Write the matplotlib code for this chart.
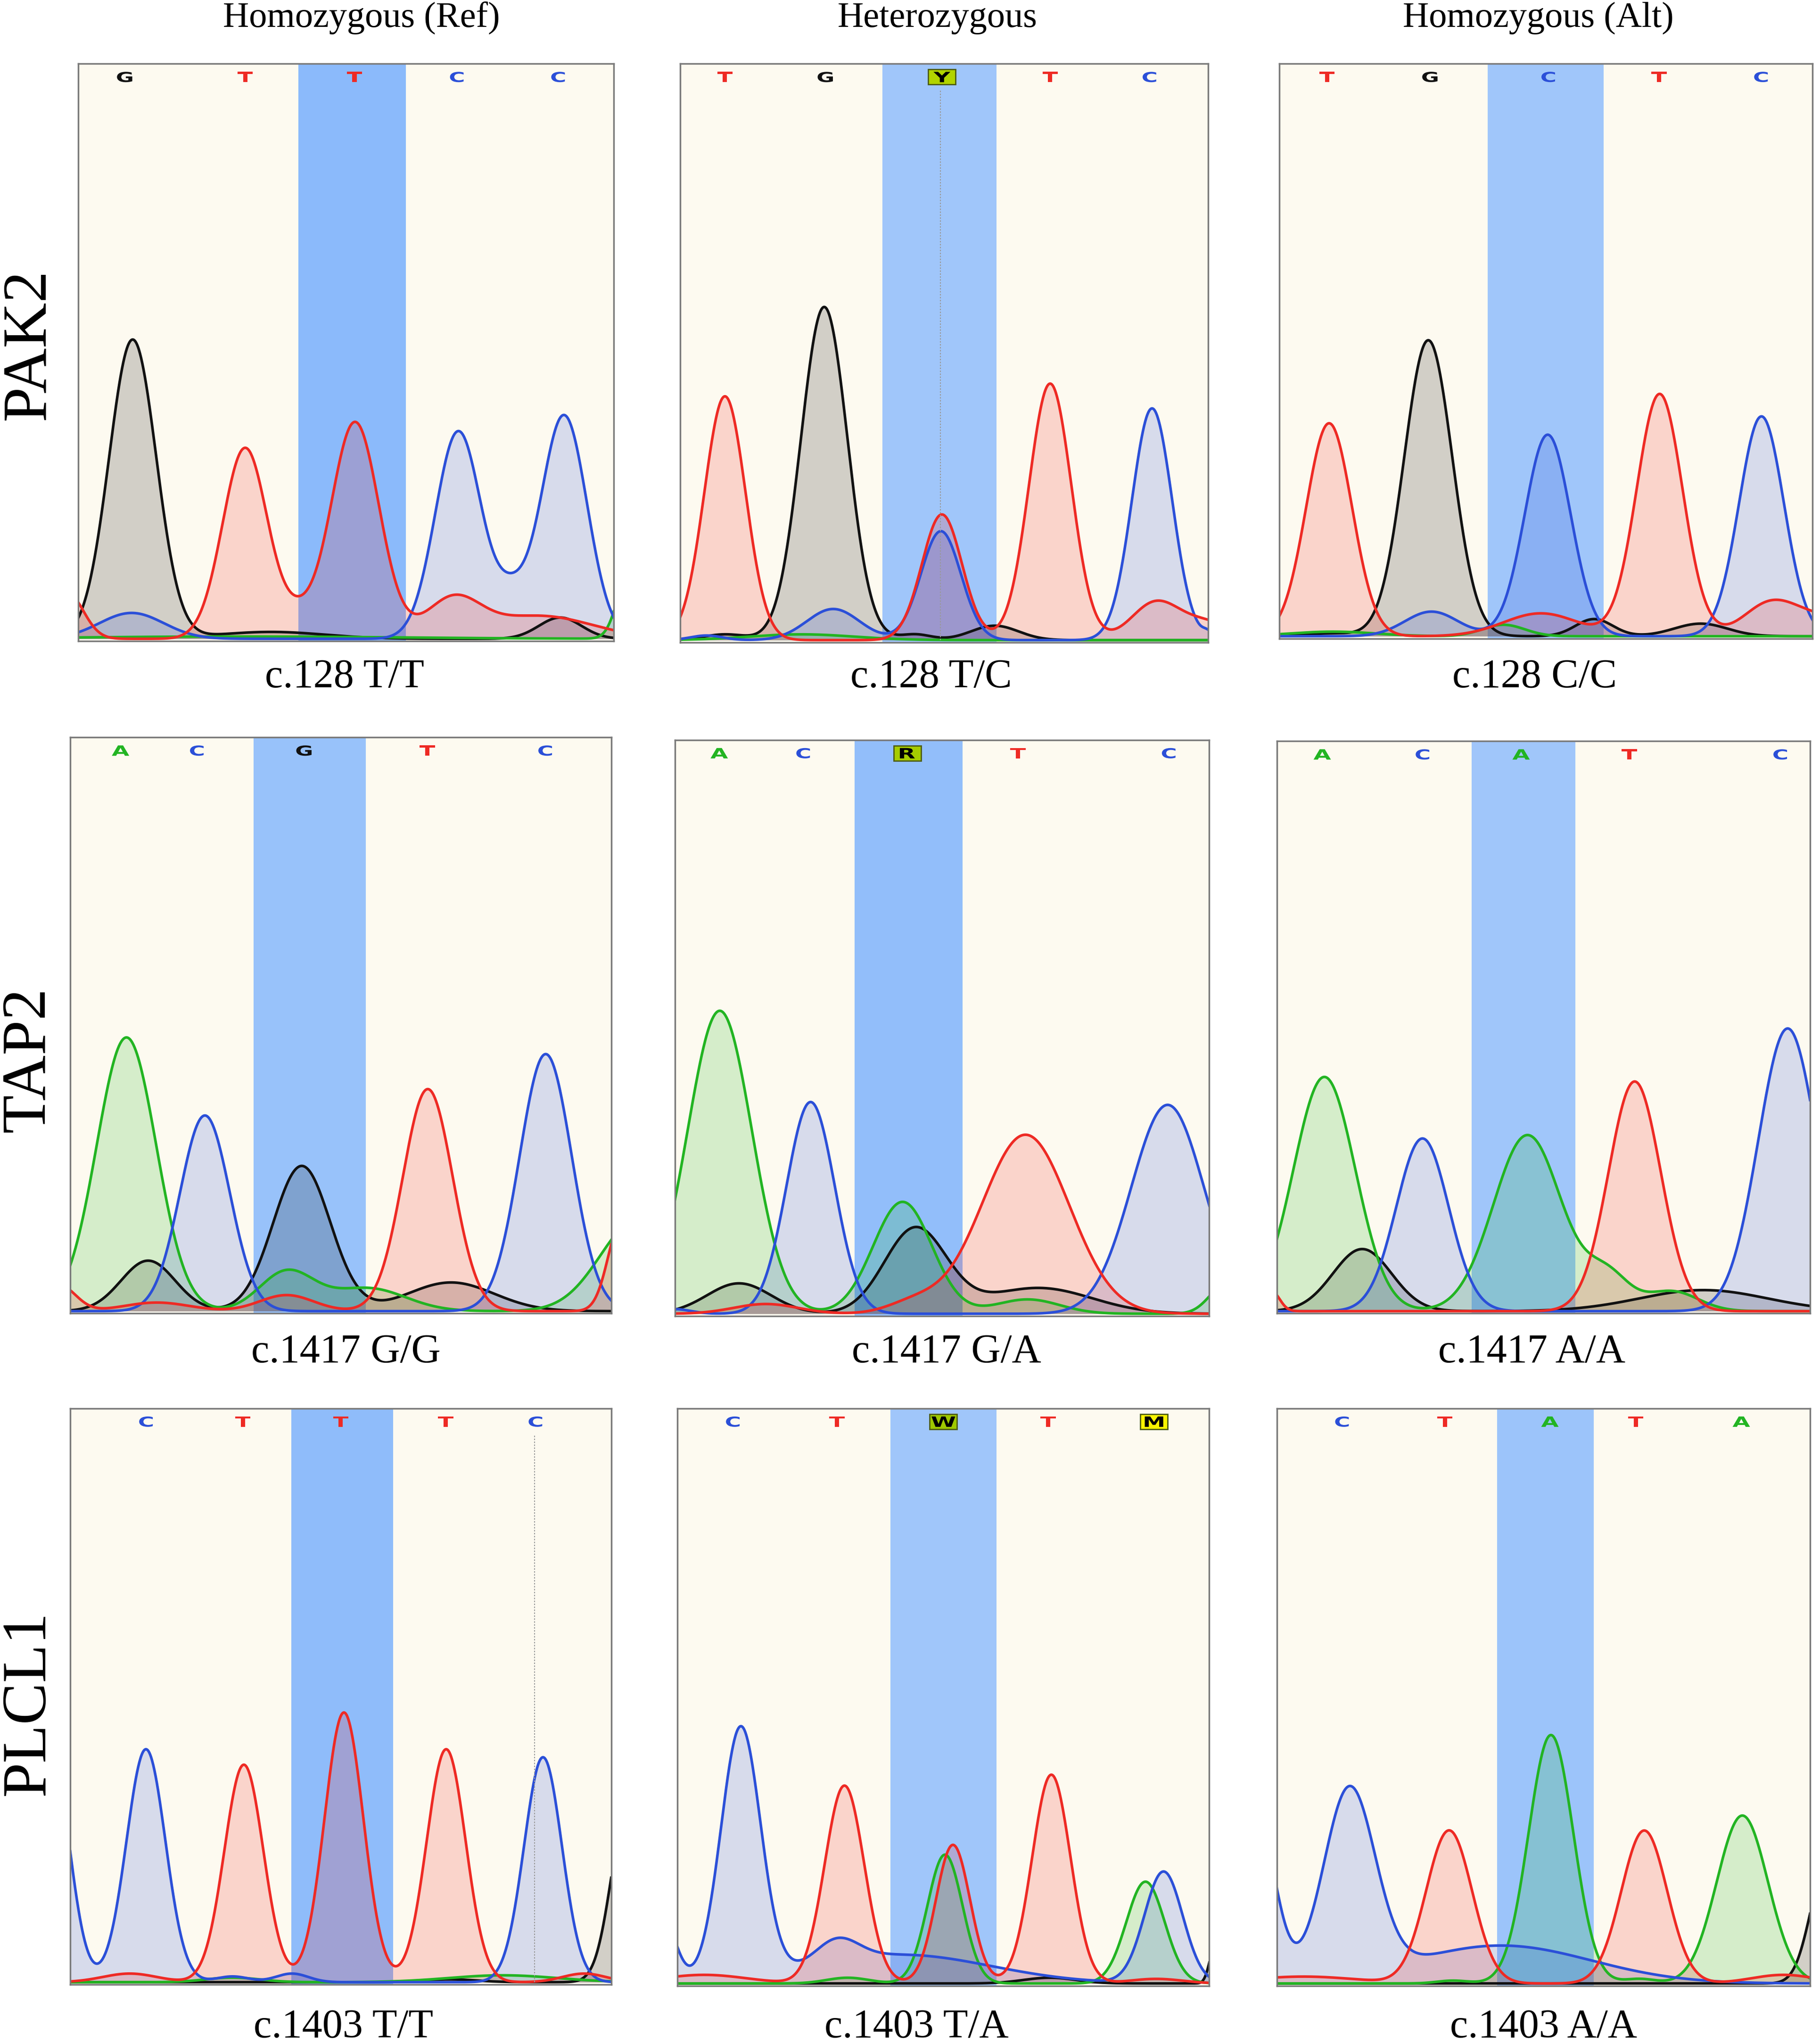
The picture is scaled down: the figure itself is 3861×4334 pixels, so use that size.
import numpy as np
import matplotlib
matplotlib.use('Agg')
import matplotlib.pyplot as plt
import matplotlib.transforms as mtransforms
from matplotlib.textpath import TextPath
from matplotlib.patches import PathPatch, Rectangle
from matplotlib.font_manager import FontProperties

plt.rcParams['font.family'] = ['Liberation Serif', 'DejaVu Serif']

col_titles = ['Homozygous (Ref)', 'Heterozygous', 'Homozygous (Alt)']
genes = ['PAK2', 'TAP2', 'PLCL1']
genotypes = [['c.128 T/T', 'c.128 T/C', 'c.128 C/C'],
             ['c.1417 G/G', 'c.1417 G/A', 'c.1417 A/A'],
             ['c.1403 T/T', 'c.1403 T/A', 'c.1403 A/A']]

# base calls printed over each trace and where they sit (0..1 of the trace window)
pak2_ref_calls = 'GTTCC'
pak2_ref_call_x = [0.087, 0.312, 0.516, 0.707, 0.896]
pak2_het_calls = 'TGYTC'
pak2_het_call_x = [0.085, 0.275, 0.496, 0.701, 0.889]
pak2_alt_calls = 'TGCTC'
pak2_alt_call_x = [0.089, 0.282, 0.504, 0.712, 0.903]
tap2_ref_calls = 'ACGTC'
tap2_ref_call_x = [0.093, 0.234, 0.432, 0.660, 0.878]
tap2_het_calls = 'ACRTC'
tap2_het_call_x = [0.083, 0.240, 0.435, 0.642, 0.924]
tap2_alt_calls = 'ACATC'
tap2_alt_call_x = [0.085, 0.273, 0.458, 0.661, 0.944]
plcl1_ref_calls = 'CTTTC'
plcl1_ref_call_x = [0.140, 0.319, 0.500, 0.694, 0.860]
plcl1_het_calls = 'CTWTM'
plcl1_het_call_x = [0.104, 0.300, 0.500, 0.697, 0.896]
plcl1_alt_calls = 'CTATA'
plcl1_alt_call_x = [0.122, 0.315, 0.512, 0.673, 0.871]

# highlighted SNP window (start, end)
pak2_ref_band = (0.411, 0.612)
pak2_het_band = (0.383, 0.599)
pak2_alt_band = (0.390, 0.608)
tap2_ref_band = (0.339, 0.546)
tap2_het_band = (0.336, 0.538)
tap2_alt_band = (0.365, 0.560)
plcl1_ref_band = (0.409, 0.597)
plcl1_het_band = (0.400, 0.600)
plcl1_alt_band = (0.413, 0.594)

# trace peaks: (channel, centre, height, width)
pak2_ref_peaks = [
    ('G', 0.102, 0.520, 0.044), ('T', 0.312, 0.332, 0.042), ('T', 0.517, 0.377, 0.045),
    ('C', 0.710, 0.361, 0.043), ('C', 0.907, 0.389, 0.043), ('C', 0.808, 0.060, 0.030),
    ('T', 0.410, 0.030, 0.030), ('C', 0.100, 0.045, 0.060), ('T', -0.020, 0.080, 0.030),
    ('T', 0.700, 0.065, 0.050), ('T', 0.860, 0.040, 0.100), ('G', 0.900, 0.037, 0.040),
    ('G', 0.360, 0.012, 0.100), ('A', 1.030, 0.120, 0.022), ('A', 0.300, 0.004, 0.300),
]
pak2_het_peaks = [
    ('T', 0.085, 0.423, 0.039), ('G', 0.273, 0.578, 0.044), ('T', 0.496, 0.218, 0.038),
    ('C', 0.494, 0.189, 0.038), ('T', 0.701, 0.445, 0.040), ('C', 0.894, 0.402, 0.038),
    ('C', 0.290, 0.054, 0.050), ('T', 0.900, 0.064, 0.045), ('T', 1.000, 0.030, 0.050),
    ('G', 0.596, 0.025, 0.045), ('G', 0.085, 0.010, 0.040), ('G', 0.445, 0.010, 0.030),
    ('A', 0.230, 0.010, 0.100), ('C', 0.050, 0.008, 0.030), ('C', 1.000, 0.010, 0.010),
]
pak2_alt_peaks = [
    ('T', 0.093, 0.372, 0.043), ('G', 0.279, 0.517, 0.045), ('C', 0.503, 0.352, 0.043),
    ('T', 0.713, 0.423, 0.043), ('C', 0.904, 0.384, 0.042), ('C', 0.285, 0.043, 0.050),
    ('T', 0.490, 0.040, 0.070), ('A', 0.420, 0.020, 0.040), ('G', 0.590, 0.030, 0.035),
    ('G', 0.790, 0.022, 0.050), ('T', 0.920, 0.055, 0.050), ('T', 1.020, 0.030, 0.060),
    ('A', 0.100, 0.008, 0.080), ('G', 0.100, 0.005, 0.050),
]
tap2_ref_peaks = [
    ('A', 0.104, 0.477, 0.055), ('C', 0.249, 0.341, 0.046), ('G', 0.428, 0.253, 0.053),
    ('T', 0.661, 0.387, 0.046), ('C', 0.879, 0.448, 0.048), ('G', 0.144, 0.088, 0.050),
    ('G', 0.704, 0.050, 0.080), ('A', 0.400, 0.068, 0.050), ('A', 0.550, 0.040, 0.070),
    ('A', 1.050, 0.160, 0.070), ('T', 0.400, 0.028, 0.050), ('T', -0.020, 0.045, 0.030),
    ('T', 0.160, 0.015, 0.060), ('T', 1.020, 0.160, 0.025),
]
tap2_het_peaks = [
    ('A', 0.084, 0.528, 0.060), ('C', 0.254, 0.369, 0.045), ('A', 0.426, 0.195, 0.055),
    ('G', 0.450, 0.148, 0.058), ('T', 0.656, 0.312, 0.082), ('C', 0.922, 0.364, 0.068),
    ('G', 0.120, 0.053, 0.060), ('G', 0.680, 0.045, 0.100), ('T', 0.170, 0.017, 0.060),
    ('T', 0.450, 0.020, 0.050), ('A', 0.660, 0.025, 0.060), ('A', 1.030, 0.050, 0.030),
    ('C', 0.000, 0.008, 0.030),
]
tap2_alt_peaks = [
    ('A', 0.089, 0.411, 0.058), ('C', 0.273, 0.303, 0.049), ('A', 0.470, 0.309, 0.064),
    ('T', 0.671, 0.403, 0.049), ('C', 0.958, 0.496, 0.055), ('G', 0.160, 0.109, 0.055),
    ('G', 0.800, 0.037, 0.120), ('A', 0.620, 0.060, 0.040), ('A', 0.740, 0.035, 0.050),
    ('T', -0.010, 0.035, 0.015),
]
plcl1_ref_peaks = [
    ('C', -0.035, 0.400, 0.033), ('C', 0.140, 0.406, 0.036), ('T', 0.321, 0.379, 0.036),
    ('T', 0.506, 0.470, 0.036), ('T', 0.695, 0.406, 0.036), ('C', 0.874, 0.392, 0.035),
    ('G', 1.030, 0.300, 0.030), ('T', 0.110, 0.015, 0.050), ('C', 0.410, 0.015, 0.030),
    ('C', 0.300, 0.010, 0.030), ('A', 0.300, 0.008, 0.050), ('A', 0.800, 0.012, 0.100),
    ('T', 0.950, 0.015, 0.040), ('G', 0.700, 0.005, 0.050),
]
plcl1_het_peaks = [
    ('C', -0.030, 0.120, 0.025), ('C', 0.119, 0.437, 0.037), ('T', 0.314, 0.344, 0.037),
    ('A', 0.503, 0.224, 0.033), ('T', 0.518, 0.241, 0.032), ('T', 0.703, 0.363, 0.036),
    ('A', 0.880, 0.177, 0.036), ('C', 0.914, 0.194, 0.036), ('C', 0.300, 0.040, 0.040),
    ('C', 0.420, 0.050, 0.170), ('G', 0.700, 0.010, 0.050), ('G', 1.010, 0.060, 0.010),
    ('T', 0.050, 0.015, 0.080), ('T', 0.900, 0.008, 0.050), ('A', 0.320, 0.010, 0.040),
]
plcl1_alt_peaks = [
    ('C', -0.040, 0.300, 0.035), ('C', 0.136, 0.327, 0.048), ('C', 0.420, 0.066, 0.170),
    ('T', 0.323, 0.266, 0.043), ('A', 0.514, 0.432, 0.042), ('T', 0.689, 0.266, 0.043),
    ('A', 0.873, 0.292, 0.048), ('G', 1.030, 0.200, 0.030), ('T', 0.050, 0.012, 0.100),
    ('T', 0.950, 0.015, 0.060), ('A', 0.330, 0.005, 0.030), ('A', 0.680, 0.008, 0.030),
]

panels = [
    [(pak2_ref_calls, pak2_ref_call_x, pak2_ref_band, pak2_ref_peaks),
     (pak2_het_calls, pak2_het_call_x, pak2_het_band, pak2_het_peaks),
     (pak2_alt_calls, pak2_alt_call_x, pak2_alt_band, pak2_alt_peaks)],
    [(tap2_ref_calls, tap2_ref_call_x, tap2_ref_band, tap2_ref_peaks),
     (tap2_het_calls, tap2_het_call_x, tap2_het_band, tap2_het_peaks),
     (tap2_alt_calls, tap2_alt_call_x, tap2_alt_band, tap2_alt_peaks)],
    [(plcl1_ref_calls, plcl1_ref_call_x, plcl1_ref_band, plcl1_ref_peaks),
     (plcl1_het_calls, plcl1_het_call_x, plcl1_het_band, plcl1_het_peaks),
     (plcl1_alt_calls, plcl1_alt_call_x, plcl1_alt_band, plcl1_alt_peaks)],
]
# dotted cursor lines (row, col, x)
cursors = [(0, 1, 0.493), (2, 0, 0.858)]

# layout, measured on a 1400 x 1571 copy of the figure
PW, PH = 1400.0, 1571.0
boxes = [[(60, 49, 472, 493), (523, 49, 929, 494), (984, 49, 1394, 491)],
         [(54, 567, 470, 1010), (519, 569, 930, 1012), (982, 570, 1392, 1010)],
         [(54, 1083, 470, 1526), (521, 1083, 930, 1527), (982, 1083, 1392, 1527)]]
band_cols = [['#8bbafb', '#a0c6fa', '#a0c6fa'],
             ['#98c2fa', '#92befa', '#a0c6fa'],
             ['#8fbcfa', '#a0c6fa', '#9cc4fa']]
title_x = [278, 721, 1183]
gene_y = [265, 815, 1310]
label_xy = [[(265, 521), (716, 521), (1180, 521)],
            [(266, 1040), (728, 1040), (1178, 1040)],
            [(264, 1559), (705, 1559), (1187, 1559)]]

trace_col = {'A': '#22b422', 'C': '#2b4fd8', 'G': '#111111', 'T': '#ee2a24'}
call_box = {'Y': '#b2d400', 'R': '#a6cc00', 'W': '#9ec800', 'M': '#f8f400'}
call_font = FontProperties(family='DejaVu Sans', weight='bold')

fig = plt.figure(figsize=(38.62, 43.34), dpi=100)
xs = np.linspace(0, 1, 900)


def trace(peaks, base):
    y = np.zeros_like(xs)
    for b, c, h, s in peaks:
        if b == base:
            y += h * np.exp(-0.5 * ((xs - c) / s) ** 2)
    return y


def put_call(ax, letter, x, y):
    tp = TextPath((0, 0), letter, size=1, prop=call_font)
    ext = tp.get_extents()
    k = 22.0 / ext.height
    off = mtransforms.ScaledTranslation(x, y, ax.transAxes)
    tr = mtransforms.Affine2D().translate(-(ext.x0 + ext.x1) / 2, -(ext.y0 + ext.y1) / 2) \
        .scale(1.6 * k, k) + off
    if letter in call_box:
        ax.add_patch(Rectangle((-29, -16), 58, 32, transform=off, facecolor=call_box[letter],
                               edgecolor='#4d5c12', lw=2, zorder=5))
        col = 'black'
    else:
        col = trace_col[letter]
    ax.add_patch(PathPatch(tp, transform=tr, facecolor=col, edgecolor='none', zorder=6))


for r in range(3):
    for c in range(3):
        calls, call_x, band, peaks = panels[r][c]
        x0, y0, x1, y1 = boxes[r][c]
        ax = fig.add_axes([x0 / PW, 1 - y1 / PH, (x1 - x0) / PW, (y1 - y0) / PH])
        ax.set_facecolor('#fdfaf0')
        ax.axvspan(band[0], band[1], color=band_cols[r][c], lw=0, zorder=0)
        traces = {b: trace(peaks, b) for b in 'GACT'}
        for b in 'GACT':
            ax.fill_between(xs, 0, traces[b], color=trace_col[b], alpha=0.18, lw=0, zorder=1)
        for b in 'GACT':
            ax.plot(xs, traces[b], color=trace_col[b], lw=4, zorder=2,
                    solid_joinstyle='round')
        for cr, cc, cx in cursors:
            if cr == r and cc == c:
                ax.plot([cx, cx], [0, 0.955], ls=(0, (1.5, 1.5)), color='#999999', lw=1.5, zorder=3)
        for letter, lx in zip(calls, call_x):
            put_call(ax, letter, lx, 0.977)
        ax.set_xlim(0, 1)
        ax.set_ylim(-0.004, 1)
        ax.set_xticks([])
        ax.set_yticks([])
        for sp in ax.spines.values():
            sp.set_color('#7a7a7a')
            sp.set_linewidth(2.5)
            sp.set_zorder(10)

for c in range(3):
    fig.text(title_x[c] / PW, 1 - 14 / PH, col_titles[c], fontsize=55, ha='center', va='center')
for r in range(3):
    fig.text(22 / PW, 1 - gene_y[r] / PH, genes[r], fontsize=96, rotation=90,
             ha='center', va='center')
    for c in range(3):
        lx, ly = label_xy[r][c]
        fig.text(lx / PW, 1 - ly / PH, genotypes[r][c], fontsize=62, ha='center', va='center')

fig.savefig('out.png', dpi=100, facecolor='white')
